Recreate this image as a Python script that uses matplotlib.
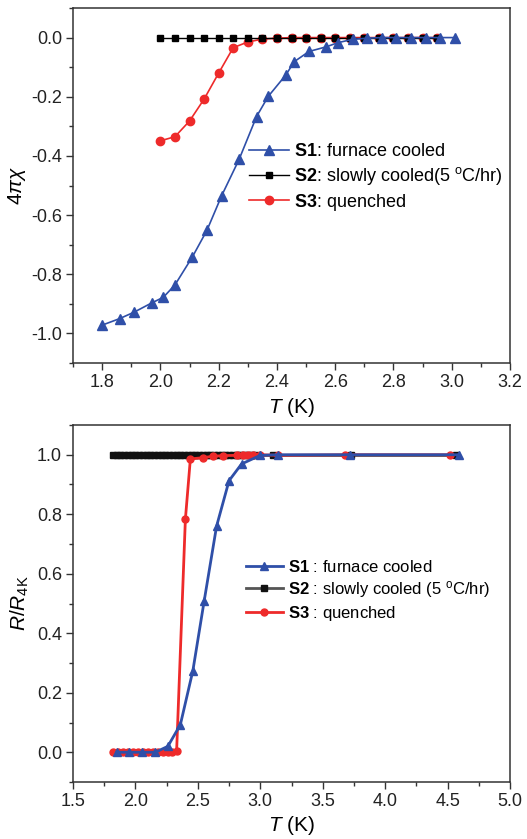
import matplotlib
matplotlib.use("Agg")
import matplotlib.pyplot as plt
from matplotlib.ticker import MultipleLocator

plt.rcParams["font.family"] = ["Liberation Sans", "DejaVu Sans"]
plt.rcParams["mathtext.fontset"] = "custom"
plt.rcParams["mathtext.rm"] = "Liberation Sans"
plt.rcParams["mathtext.it"] = "Liberation Sans:italic"
plt.rcParams["mathtext.bf"] = "Liberation Sans:bold"
plt.rcParams["axes.unicode_minus"] = False

BLUE = "#2f4fa8"
RED = "#ee2a2a"

# --- top panel: susceptibility 4*pi*chi vs T ---
t_s1 = [1.80, 1.86, 1.91, 1.97, 2.01, 2.05, 2.11, 2.16, 2.21, 2.27, 2.33, 2.37, 2.43,
        2.46, 2.51, 2.57, 2.61, 2.66, 2.71, 2.76, 2.81, 2.86, 2.91, 2.96, 3.01]
chi_s1 = [-0.972, -0.950, -0.928, -0.897, -0.878, -0.836, -0.741, -0.651, -0.535, -0.412,
          -0.267, -0.199, -0.127, -0.081, -0.047, -0.031, -0.017, -0.006, -0.002, 0.0,
          0.0, 0.0, 0.0, 0.0, 0.0]
t_s2 = [2.00, 2.05, 2.10, 2.15, 2.20, 2.25, 2.30, 2.35, 2.40, 2.45, 2.50, 2.55, 2.60,
        2.65, 2.70, 2.75, 2.80, 2.85, 2.90, 2.95]
chi_s2 = [0.0, 0.0, 0.0, 0.0, 0.0, 0.0, 0.0, 0.0, 0.0, 0.0, 0.0, 0.0, 0.0, 0.0, 0.0,
          0.0, 0.0, 0.0, 0.0, 0.0]
t_s3 = [2.00, 2.05, 2.10, 2.15, 2.20, 2.25, 2.30, 2.35, 2.40, 2.45, 2.50, 2.55, 2.60,
        2.65, 2.70, 2.75, 2.80, 2.85, 2.90, 2.95]
chi_s3 = [-0.349, -0.335, -0.282, -0.208, -0.120, -0.034, -0.015, -0.005, -0.002, 0.0,
          0.0, 0.0, 0.0, 0.0, 0.0, 0.0, 0.0, 0.0, 0.0, 0.0]

# --- bottom panel: normalized resistance vs T ---
tb_s1 = [1.85, 1.95, 2.05, 2.16, 2.26, 2.36, 2.46, 2.55, 2.65, 2.75, 2.85, 3.00, 3.14,
         3.72, 4.59]
r_s1 = [0.0, 0.0, 0.0, 0.0, 0.02, 0.093, 0.274, 0.507, 0.76, 0.913, 0.969, 0.998, 1.0,
        1.0, 1.0]
tb_s2 = [1.82, 1.85, 1.88, 1.91, 1.94, 1.97, 2.00, 2.03, 2.06, 2.09, 2.12, 2.15, 2.18,
         2.21, 2.24, 2.27, 2.30, 2.33, 2.36, 2.39, 2.42, 2.45, 2.48, 2.51, 2.54, 2.57,
         2.60, 2.63, 2.66, 2.69, 2.72, 2.75, 2.78, 2.81, 2.84, 2.87, 2.90, 2.93, 2.96,
         3.10, 3.73, 4.57]
r_s2 = [1.0, 1.0, 1.0, 1.0, 1.0, 1.0, 1.0, 1.0, 1.0, 1.0, 1.0, 1.0, 1.0, 1.0, 1.0,
        1.0, 1.0, 1.0, 1.0, 1.0, 1.0, 1.0, 1.0, 1.0, 1.0, 1.0, 1.0, 1.0, 1.0, 1.0,
        1.0, 1.0, 1.0, 1.0, 1.0, 1.0, 1.0, 1.0, 1.0, 1.0, 1.0, 1.0]
tb_s3 = [1.82, 1.86, 1.90, 1.94, 1.98, 2.02, 2.06, 2.10, 2.14, 2.18, 2.22, 2.26, 2.29,
         2.33, 2.40, 2.44, 2.54, 2.62, 2.70, 2.81, 2.86, 2.90, 2.94, 3.00, 3.14, 3.68,
         4.52]
r_s3 = [0.0, 0.0, 0.0, 0.0, 0.0, 0.0, 0.0, 0.0, 0.0, 0.0, 0.0, 0.0, 0.0, 0.005,
        0.783, 0.986, 0.99, 0.995, 0.997, 0.998, 0.999, 0.999, 1.0, 1.0, 0.998, 1.0, 1.0]

labels_top = [r"$\mathbf{S1}$: furnace cooled",
              r"$\mathbf{S2}$: slowly cooled(5 $^{\rm o}$C/hr)",
              r"$\mathbf{S3}$: quenched"]
labels_bot = [r"$\mathbf{S1}$ : furnace cooled",
              r"$\mathbf{S2}$ : slowly cooled (5 $^{\rm o}$C/hr)",
              r"$\mathbf{S3}$ : quenched"]

W, H = 527, 839
fig = plt.figure(figsize=(W / 100, H / 100), dpi=100)
ax1 = fig.add_axes([73 / W, 1 - 363 / H, 437 / W, 355 / H])
ax2 = fig.add_axes([73 / W, 1 - 782 / H, 437 / W, 357 / H])


def style(ax):
    for sp in ax.spines.values():
        sp.set_linewidth(1.1)
        sp.set_color("#333333")
    ax.tick_params(which="both", direction="out", top=False, right=False,
                   colors="#333333", labelcolor="#222222", labelsize=13, pad=3)
    ax.tick_params(which="major", length=5, width=1.0)
    ax.tick_params(which="minor", length=3, width=1.0)


# top
h3, = ax1.plot(t_s3, chi_s3, "-o", color=RED, lw=1.2, ms=6)
h2, = ax1.plot(t_s2, chi_s2, "-s", color="black", lw=1.0, ms=5)
h1, = ax1.plot(t_s1, chi_s1, "-^", color=BLUE, lw=1.2, ms=6.5)
ax1.set_xlim(1.7, 3.2)
ax1.set_ylim(-1.1, 0.1)
ax1.xaxis.set_major_locator(MultipleLocator(0.2))
ax1.xaxis.set_minor_locator(MultipleLocator(0.1))
ax1.yaxis.set_major_locator(MultipleLocator(0.2))
ax1.yaxis.set_minor_locator(MultipleLocator(0.1))
style(ax1)
ax1.set_xlabel(r"$T$ (K)", fontsize=15)
ax1.set_ylabel(r"$4\pi\chi$", fontsize=15)
ax1.xaxis.set_label_coords(0.5, -0.093)
ax1.yaxis.set_label_coords(-0.103, 0.5)
ax1.legend([h1, h2, h3], labels_top, loc="center left",
           bbox_to_anchor=(249 / W, 1 - 178 / H), bbox_transform=fig.transFigure,
           frameon=False, fontsize=13, handlelength=2.2, handletextpad=0.3,
           labelspacing=0.25, borderpad=0, borderaxespad=0)

# bottom
g2, = ax2.plot(tb_s2, r_s2, "-s", color="#555555", mfc="#111111", mec="#111111",
               lw=2.0, ms=5)
g3, = ax2.plot(tb_s3, r_s3, "-o", color=RED, lw=2.0, ms=5)
g1, = ax2.plot(tb_s1, r_s1, "-^", color=BLUE, lw=2.0, ms=6)
ax2.set_xlim(1.5, 5.0)
ax2.set_ylim(-0.1, 1.1)
ax2.xaxis.set_major_locator(MultipleLocator(0.5))
ax2.xaxis.set_minor_locator(MultipleLocator(0.25))
ax2.yaxis.set_major_locator(MultipleLocator(0.2))
ax2.yaxis.set_minor_locator(MultipleLocator(0.1))
style(ax2)
ax2.set_xlabel(r"$T$ (K)", fontsize=15)
ax2.set_ylabel(r"$R/R_{\rm 4K}$", fontsize=15)
ax2.xaxis.set_label_coords(0.5, -0.09)
ax2.yaxis.set_label_coords(-0.095, 0.5)
ax2.legend([g1, g2, g3], labels_bot, loc="center left",
           bbox_to_anchor=(246 / W, 1 - 591 / H), bbox_transform=fig.transFigure,
           frameon=False, fontsize=12, handlelength=2.2, handletextpad=0.35,
           labelspacing=0.25, borderpad=0, borderaxespad=0)

fig.savefig("out.png", dpi=100)
